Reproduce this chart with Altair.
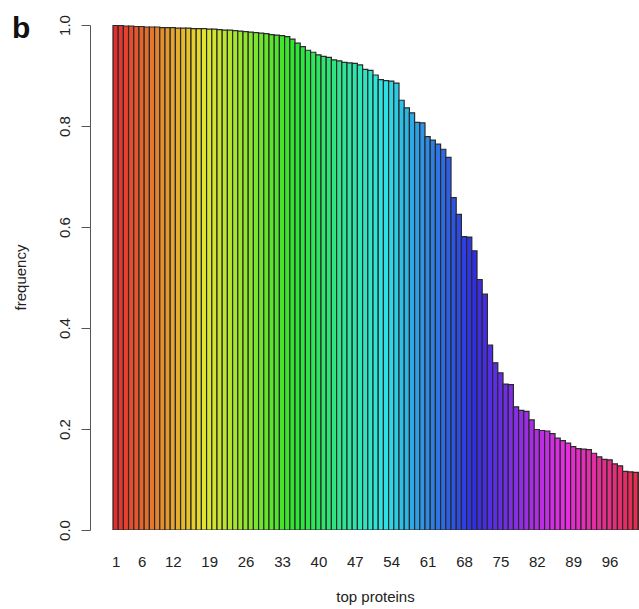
import colorsys
import altair as alt
import pandas as pd

frequency = [
    0.999, 0.999, 0.998, 0.998, 0.997, 0.997, 0.996, 0.996, 0.996, 0.995,
    0.995, 0.995, 0.994, 0.994, 0.994, 0.993, 0.993, 0.993, 0.992, 0.992,
    0.991, 0.990, 0.990, 0.989, 0.988, 0.987, 0.986, 0.985, 0.984, 0.983,
    0.981, 0.980, 0.979, 0.977, 0.972, 0.964, 0.957, 0.950, 0.946, 0.941,
    0.938, 0.936, 0.931, 0.929, 0.926, 0.925, 0.924, 0.921, 0.912, 0.910,
    0.901, 0.892, 0.890, 0.889, 0.885, 0.851, 0.836, 0.826, 0.807, 0.806,
    0.779, 0.772, 0.764, 0.754, 0.738, 0.658, 0.625, 0.581, 0.580, 0.553,
    0.496, 0.467, 0.366, 0.331, 0.311, 0.289, 0.288, 0.244, 0.237, 0.235,
    0.218, 0.199, 0.197, 0.196, 0.191, 0.182, 0.177, 0.172, 0.165, 0.161,
    0.160, 0.159, 0.152, 0.145, 0.140, 0.139, 0.131, 0.127, 0.116, 0.115,
    0.114, 0.113,
]
rank = list(range(1, len(frequency) + 1))
x_labels = [1, 6, 12, 19, 26, 33, 40, 47, 54, 61, 68, 75, 82, 89, 96]
y_ticks = [0.0, 0.2, 0.4, 0.6, 0.8, 1.0]

n_palette = 103


def rainbow(i):
    r, g, b = colorsys.hsv_to_rgb(i / n_palette, 0.8, 0.9)
    return "#%02x%02x%02x" % (int(r * 255), int(g * 255), int(b * 255))


df = pd.DataFrame({
    "rank": rank,
    "start": [r - 1 for r in rank],
    "end": rank,
    "frequency": frequency,
    "color": [rainbow(i) for i in range(len(rank))],
})

FONT = "Liberation Sans"

x_scale = alt.Scale(domain=[-4.42, 101.15], nice=False, zero=False)
y_scale = alt.Scale(domain=[0, 1], nice=False)

bars = alt.Chart(df).mark_bar(
    stroke="#2a2a2a", strokeWidth=1.2, clip=True
).encode(
    x=alt.X(
        "start:Q", scale=x_scale,
        axis=alt.Axis(
            values=[v - 0.5 for v in x_labels],
            labelExpr="format(datum.value + 0.5, 'd')",
            domain=False, ticks=False, tickSize=0, grid=False,
            labelPadding=24, labelFont=FONT, labelFontSize=15,
            labelColor="#222222", labelBaseline="top",
            title="top proteins", titleFont=FONT, titleFontSize=15,
            titleFontWeight="normal", titleColor="#222222",
            titleX=285, titleY=66, titleBaseline="middle", titleAlign="center",
        ),
    ),
    x2="end:Q",
    y=alt.Y(
        "frequency:Q", scale=y_scale,
        axis=alt.Axis(
            values=y_ticks, format=".1f", grid=False,
            domainColor="#555555", tickColor="#555555", tickSize=9,
            labelAngle=270, labelAlign="center", labelBaseline="bottom",
            labelPadding=9, labelFont=FONT, labelFontSize=15,
            labelColor="#222222",
            title="frequency", titleFont=FONT, titleFontSize=15,
            titleFontWeight="normal", titleColor="#222222",
            titleAngle=270, titleX=-70, titleY=252,
            titleAlign="center", titleBaseline="middle",
        ),
    ),
    y2=alt.datum(0),
    color=alt.Color("color:N", scale=None),
)

panel = alt.Chart(pd.DataFrame({"t": ["b"]})).mark_text(
    font=FONT, fontSize=30, fontWeight="bold", align="left",
    baseline="alphabetic", color="#111111"
).encode(
    text="t:N", x=alt.value(-78), y=alt.value(13)
)

chart = alt.layer(bars, panel).properties(
    width=549, height=505,
    background="white",
    autosize=alt.AutoSizeParams(type="none"),
    padding={"left": 90, "top": 25, "right": 0, "bottom": 79},
).configure_view(stroke=None)

chart.save("out.html", embed_options={"renderer": "svg", "actions": False})
